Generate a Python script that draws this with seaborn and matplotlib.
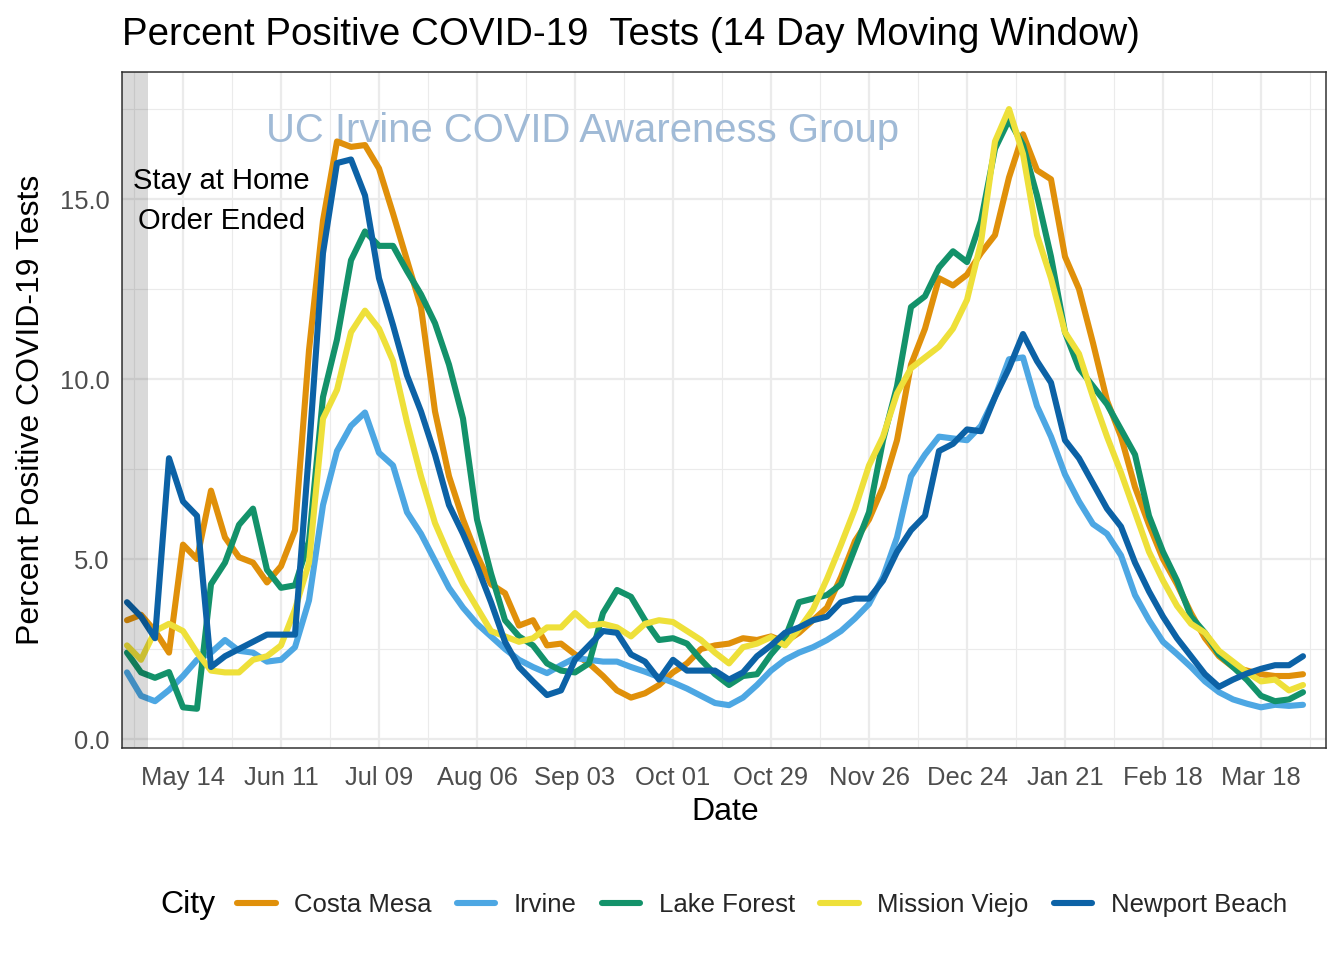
import numpy as np
import pandas as pd
import matplotlib
matplotlib.use("Agg")
import matplotlib.pyplot as plt
import matplotlib.dates as mdates
from matplotlib.lines import Line2D
from matplotlib.ticker import FixedLocator
import seaborn as sns

# ---------------- data ----------------
dates = pd.date_range("2020-04-28", "2021-03-30", freq="4D")
cities = ["Costa Mesa", "Irvine", "Lake Forest", "Mission Viejo", "Newport Beach"]
colors = ["#E0900A", "#4DA7E3", "#13926A", "#EEE03A", "#0C62A6"]

costa_mesa = [3.3, 3.45, 3.0, 2.4, 5.4, 5.0, 6.9, 5.6, 5.05, 4.9,
              4.35, 4.8, 5.8, 10.8, 14.4, 16.6, 16.45, 16.5, 15.85, 14.6,
              13.3, 12.0, 9.1, 7.3, 6.1, 5.1, 4.3, 4.05, 3.15, 3.3,
              2.6, 2.65, 2.35, 2.1, 1.75, 1.35, 1.15, 1.27, 1.5, 1.85,
              2.1, 2.5, 2.6, 2.65, 2.8, 2.75, 2.85, 2.7, 2.95, 3.3,
              3.65, 4.5, 5.5, 6.1, 7.0, 8.3, 10.4, 11.4, 12.8, 12.6,
              12.9, 13.5, 14.0, 15.6, 16.8, 15.8, 15.55, 13.4, 12.5, 11.0,
              9.4, 8.4, 7.0, 5.95, 5.0, 4.3, 3.5, 2.8, 2.3, 2.0,
              1.9, 1.8, 1.75, 1.75, 1.8]
irvine = [1.85, 1.2, 1.05, 1.36, 1.75, 2.2, 2.4, 2.75, 2.45, 2.4,
          2.15, 2.2, 2.55, 3.85, 6.5, 8.0, 8.7, 9.07, 7.95, 7.6,
          6.3, 5.7, 4.95, 4.2, 3.65, 3.2, 2.85, 2.5, 2.2, 2.0,
          1.83, 2.05, 2.25, 2.2, 2.15, 2.15, 2.0, 1.87, 1.72, 1.57,
          1.4, 1.2, 1.0, 0.94, 1.15, 1.5, 1.9, 2.2, 2.4, 2.55,
          2.75, 3.0, 3.35, 3.75, 4.5, 5.6, 7.3, 7.9, 8.4, 8.35,
          8.3, 8.7, 9.5, 10.55, 10.6, 9.25, 8.4, 7.35, 6.6, 5.97,
          5.7, 5.1, 4.0, 3.3, 2.7, 2.36, 2.0, 1.6, 1.3, 1.1,
          0.98, 0.88, 0.95, 0.92, 0.95]
lake_forest = [2.4, 1.85, 1.7, 1.86, 0.88, 0.84, 4.3, 4.9, 5.95, 6.4,
               4.7, 4.2, 4.27, 5.5, 9.5, 11.1, 13.3, 14.1, 13.7, 13.7,
               13.0, 12.35, 11.55, 10.4, 8.9, 6.1, 4.6, 3.3, 2.85, 2.6,
               2.1, 1.9, 1.85, 2.1, 3.5, 4.14, 3.95, 3.3, 2.75, 2.8,
               2.65, 2.2, 1.8, 1.5, 1.75, 1.8, 2.35, 2.8, 3.8, 3.9,
               4.0, 4.3, 5.3, 6.3, 8.3, 9.8, 12.0, 12.3, 13.1, 13.55,
               13.25, 14.4, 16.4, 17.2, 16.5, 15.1, 13.4, 11.3, 10.3, 9.8,
               9.3, 8.6, 7.9, 6.2, 5.2, 4.4, 3.4, 2.95, 2.35, 2.0,
               1.64, 1.2, 1.05, 1.1, 1.3]
mission_viejo = [2.6, 2.2, 3.0, 3.2, 3.0, 2.4, 1.9, 1.85, 1.85, 2.2,
                 2.3, 2.6, 3.6, 4.9, 8.9, 9.7, 11.3, 11.9, 11.4, 10.5,
                 8.8, 7.3, 6.0, 5.1, 4.3, 3.65, 3.0, 2.85, 2.7, 2.8,
                 3.1, 3.1, 3.5, 3.15, 3.2, 3.1, 2.85, 3.2, 3.3, 3.25,
                 3.0, 2.75, 2.4, 2.1, 2.55, 2.65, 2.83, 2.6, 3.05, 3.6,
                 4.45, 5.4, 6.4, 7.6, 8.4, 9.6, 10.3, 10.6, 10.9, 11.4,
                 12.2, 13.8, 16.6, 17.5, 16.25, 14.0, 12.8, 11.3, 10.7, 9.5,
                 8.4, 7.4, 6.3, 5.2, 4.4, 3.7, 3.2, 2.95, 2.45, 2.15,
                 1.85, 1.6, 1.65, 1.35, 1.5]
newport_beach = [3.8, 3.4, 2.8, 7.8, 6.6, 6.2, 2.0, 2.3, 2.5, 2.7,
                 2.9, 2.9, 2.9, 8.0, 13.5, 16.0, 16.1, 15.1, 12.8, 11.5,
                 10.1, 9.1, 7.9, 6.5, 5.7, 4.8, 3.8, 2.7, 2.0, 1.6,
                 1.22, 1.35, 2.2, 2.6, 3.0, 2.95, 2.35, 2.15, 1.65, 2.2,
                 1.9, 1.9, 1.9, 1.65, 1.85, 2.3, 2.6, 2.95, 3.1, 3.3,
                 3.4, 3.8, 3.9, 3.9, 4.4, 5.2, 5.8, 6.2, 8.0, 8.2,
                 8.6, 8.55, 9.5, 10.3, 11.25, 10.5, 9.9, 8.3, 7.8, 7.1,
                 6.4, 5.9, 4.9, 4.1, 3.4, 2.8, 2.3, 1.8, 1.45, 1.65,
                 1.82, 1.95, 2.05, 2.05, 2.3]

tick_dates = pd.date_range("2020-05-14", periods=12, freq="28D")
minor_dates = pd.date_range("2020-04-30", periods=13, freq="28D")
order_end = pd.Timestamp("2020-05-04")

series = [costa_mesa, irvine, lake_forest, mission_viejo, newport_beach]
df = pd.DataFrame({
    "Date": np.tile(dates, len(cities)),
    "Value": np.concatenate([np.asarray(s, float) for s in series]),
    "City": np.repeat(cities, len(dates)),
})

# ---------------- style ----------------
sns.set_style("white")
plt.rcParams["font.family"] = ["Liberation Sans", "DejaVu Sans"]

W, H = 1344, 960
fig = plt.figure(figsize=(W / 100, H / 100), dpi=100)
ax = fig.add_axes([122 / W, 1 - 748 / H, (1326 - 122) / W, (748 - 72) / H])

LW = 4.4
palette = dict(zip(cities, colors))
sns.lineplot(data=df, x="Date", y="Value", hue="City", hue_order=cities,
             palette=palette, linewidth=LW, legend=False, ax=ax,
             solid_joinstyle="round", zorder=3)

base = mdates.date2num(pd.Timestamp("2020-05-14"))
xl = base - 61 / 3.5
xr = base + 1143 / 3.5
ax.set_xlim(xl, xr)
ax.set_ylim(-0.25, 18.53)

ax.axvspan(xl, mdates.date2num(order_end), color="black", alpha=0.15, lw=0, zorder=5)

ax.set_xticks(mdates.date2num(tick_dates))
ax.set_xticklabels([d.strftime("%b %d") for d in tick_dates])
ax.xaxis.set_minor_locator(FixedLocator(mdates.date2num(minor_dates)))
ax.set_yticks([0, 5, 10, 15])
ax.set_yticklabels(["0.0", "5.0", "10.0", "15.0"])
ax.yaxis.set_minor_locator(FixedLocator([2.5, 7.5, 12.5, 17.5]))

ax.grid(which="major", color="#EBEBEB", lw=1.6)
ax.grid(which="minor", color="#EBEBEB", lw=0.8)
ax.set_axisbelow(True)
for sp in ax.spines.values():
    sp.set_visible(True)
    sp.set_color("#333333")
    sp.set_linewidth(1.1)
ax.tick_params(which="major", length=5, width=1.1, color="#333333",
               labelcolor="#4D4D4D", labelsize=18.4, pad=4)
ax.tick_params(axis="x", which="major", pad=8)
ax.tick_params(which="minor", length=0)
ax.set_xlabel("")
ax.set_ylabel("")

ax.text(pd.Timestamp("2020-09-05"), 16.9, "UC Irvine COVID Awareness Group",
        ha="center", va="center", fontsize=28.8, color="#A0BAD6", zorder=2)
ax.text(pd.Timestamp("2020-05-25"), 14.94, "Stay at Home\nOrder Ended",
        ha="center", va="center", fontsize=21, color="black",
        linespacing=1.55, zorder=6)

fig.text(122 / W, 1 - 35 / H, "Percent Positive COVID-19  Tests (14 Day Moving Window)",
         ha="left", va="center", fontsize=27.7, color="black")
fig.text(725 / W, 1 - 812 / H, "Date", ha="center", va="center", fontsize=23, color="black")
fig.text(31 / W, 1 - 410 / H, "Percent Positive COVID-19 Tests", ha="center", va="center",
         rotation=90, fontsize=23, color="black")

handles = [Line2D([0], [0], color=c, lw=LW) for c in colors]
fig.legend(handles, cities, loc="center left", bbox_to_anchor=(237 / W, 1 - 905 / H),
           ncol=5, frameon=False, fontsize=18.5, handlelength=1.5,
           handletextpad=0.72, columnspacing=0.98, borderpad=0, borderaxespad=0)
fig.text(160 / W, 1 - 905 / H, "City", ha="left", va="center", fontsize=23, color="black")

fig.savefig("out.png", dpi=100)
